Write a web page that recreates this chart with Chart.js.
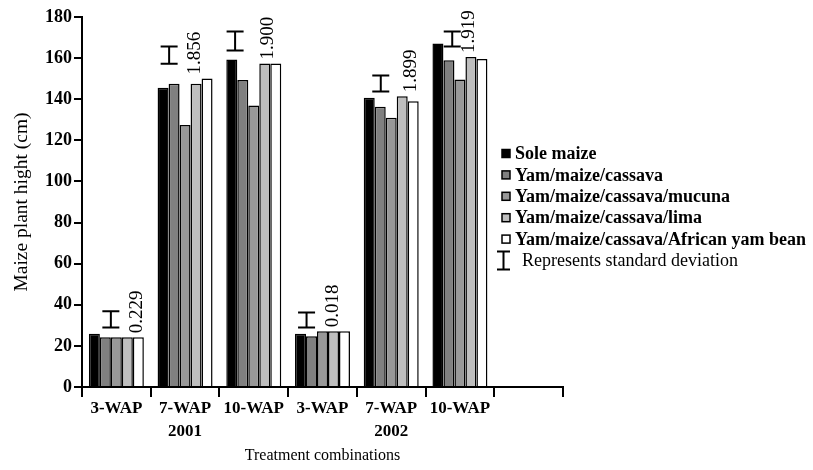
<!DOCTYPE html>
<html>
<head>
<meta charset="utf-8">
<script src="https://cdn.jsdelivr.net/npm/chart.js@4.4.0/dist/chart.umd.min.js"></script>
<style>
html,body{margin:0;padding:0;background:#fff;}
#wrap{width:813px;height:470px;position:relative;}
</style>
</head>
<body>
<div id="wrap"><canvas id="c" width="813" height="470"></canvas></div>
<script>
// ---- data ----
const categories = [["3-WAP"], ["7-WAP", "2001"], ["10-WAP"], ["3-WAP"], ["7-WAP", "2002"], ["10-WAP"], [""]];
const seriesNames = ["Sole maize", "Yam/maize/cassava", "Yam/maize/cassava/mucuna", "Yam/maize/cassava/lima", "Yam/maize/cassava/African yam bean"];
const soleMaize      = [25.9, 145.6, 159.3, 25.9, 140.7, 167.1, null];
const yamMaizeCass   = [24.2, 147.5, 149.4, 24.7, 136.3, 159.0, null];
const yamMucuna      = [24.2, 127.4, 137.0, 27.1, 131.0, 149.6, null];
const yamLima        = [24.2, 147.5, 157.4, 27.1, 141.5, 160.6, null];
const yamAfricanBean = [24.2, 150.1, 157.4, 27.1, 139.0, 159.6, null];
const sdLow  = [29.0, 157.3, 163.7, 29.0, 143.8, 165.6];
const sdHigh = [36.9, 165.6, 172.9, 36.3, 151.6, 172.9];
const sdLabels = ["0.229", "1.856", "1.900", "0.018", "1.899", "1.919"];
const yTicks = [0, 20, 40, 60, 80, 100, 120, 140, 160, 180];
const sdText = "Represents standard deviation";

// ---- styles ----
const colors = ["#000000", "#808080", "#989898", "#bebebe", "#ffffff"];
const FONT = "'Liberation Serif', 'Times New Roman', serif";
const seriesData = [soleMaize, yamMaizeCass, yamMucuna, yamLima, yamAfricanBean];

const sdPlugin = {
  id: 'sdPlugin',
  afterDatasetsDraw(chart, args, opts) {
    const ctx = chart.ctx;
    const xs = chart.scales.x, ys = chart.scales.y;
    const bw = chart.getDatasetMeta(0).data[0].width;
    ctx.save();
    ctx.strokeStyle = '#000';
    ctx.fillStyle = '#000';
    ctx.lineWidth = 2;
    for (let i = 0; i < sdLow.length; i++) {
      const cx = xs.getPixelForValue(i);
      const bx = cx + (opts.beamAt[i] - 2) * bw;
      const yt = ys.getPixelForValue(sdHigh[i]);
      const yb = ys.getPixelForValue(sdLow[i]);
      const hw = 8.5;
      ctx.beginPath();
      ctx.moveTo(bx - hw, yt); ctx.lineTo(bx + hw, yt);
      ctx.moveTo(bx, yt); ctx.lineTo(bx, yb);
      ctx.moveTo(bx - hw, yb); ctx.lineTo(bx + hw, yb);
      ctx.stroke();
      const lx = cx + (opts.labelAt[i] - 2) * bw;
      const top = Math.max(yamLima[i], yamAfricanBean[i]);
      const ly = ys.getPixelForValue(top) - 4;
      ctx.save();
      ctx.translate(lx, ly);
      ctx.rotate(-Math.PI / 2);
      ctx.font = "19px " + FONT;
      ctx.textAlign = 'left';
      ctx.textBaseline = 'middle';
      ctx.fillText(sdLabels[i], 0, 1);
      ctx.restore();
    }
    ctx.restore();
  }
};

const legendPlugin = {
  id: 'customLegend',
  afterDraw(chart, args, opts) {
    const ctx = chart.ctx;
    ctx.save();
    const x0 = opts.x, y0 = opts.y, dy = opts.dy;
    ctx.textBaseline = 'middle';
    ctx.textAlign = 'left';
    for (let k = 0; k < seriesNames.length; k++) {
      const y = y0 + k * dy;
      ctx.fillStyle = colors[k];
      ctx.fillRect(x0, y - 4, 8, 8);
      ctx.strokeStyle = '#000';
      ctx.lineWidth = 1.5;
      ctx.strokeRect(x0, y - 4, 8, 8);
      ctx.fillStyle = '#000';
      ctx.font = "bold 18px " + FONT;
      ctx.fillText(seriesNames[k], x0 + 13, y + 1);
    }
    const y = y0 + seriesNames.length * dy;
    ctx.strokeStyle = '#000';
    ctx.lineWidth = 2;
    ctx.beginPath();
    ctx.moveTo(x0 - 5, y - 9); ctx.lineTo(x0 + 8, y - 9);
    ctx.moveTo(x0 + 1.5, y - 9); ctx.lineTo(x0 + 1.5, y + 9);
    ctx.moveTo(x0 - 5, y + 9); ctx.lineTo(x0 + 8, y + 9);
    ctx.stroke();
    ctx.fillStyle = '#000';
    ctx.font = "18px " + FONT;
    ctx.fillText(sdText, x0 + 20, y + 1);
    ctx.restore();
  }
};

new Chart(document.getElementById('c'), {
  type: 'bar',
  data: {
    labels: categories,
    datasets: seriesNames.map((n, k) => ({
      label: n,
      data: seriesData[k],
      backgroundColor: colors[k],
      borderColor: '#000',
      borderWidth: 1.5,
      barPercentage: 1.0,
      categoryPercentage: 0.8
    }))
  },
  options: {
    responsive: false,
    animation: false,
    layout: { padding: { left: 0, right: 250, top: 17, bottom: 0 } },
    plugins: {
      legend: { display: false },
      tooltip: { enabled: false },
      sdPlugin: {
        beamAt: [1.5, 0.55, 0.3, 0.55, 1.05, 1.3],
        labelAt: [3.8, 2.8, 3.2, 2.9, 3.7, 2.7]
      },
      customLegend: { x: 502, y: 153.5, dy: 21.4 }
    },
    scales: {
      x: {
        afterFit(s) { s.height = 83; },
        grid: { display: true, offset: true, drawOnChartArea: false, drawTicks: true, tickLength: 10, color: '#000', lineWidth: 2 },
        border: { display: true, color: '#000', width: 2 },
        ticks: { color: '#000', font: { family: FONT, size: 17, weight: 'bold', lineHeight: 1.3 }, padding: 1, maxRotation: 0, autoSkip: false },
        title: { display: true, text: 'Treatment combinations', color: '#000', font: { family: FONT, size: 16, weight: 'normal' }, padding: { top: 0, bottom: 5 } }
      },
      y: {
        min: 0, max: 180,
        afterFit(s) { s.width = 82; },
        afterBuildTicks(s) { s.ticks = yTicks.map(v => ({ value: v })); },
        grid: { display: true, drawOnChartArea: false, drawTicks: true, tickLength: 8, color: '#000', lineWidth: 2 },
        border: { display: true, color: '#000', width: 2 },
        ticks: { color: '#000', font: { family: FONT, size: 18, weight: 'bold' }, padding: 2 },
        title: { display: true, text: 'Maize plant hight (cm)', color: '#000', font: { family: FONT, size: 19.5, weight: 'normal' }, padding: { top: 10, bottom: 0 } }
      }
    }
  },
  plugins: [sdPlugin, legendPlugin]
});
</script>
</body>
</html>
